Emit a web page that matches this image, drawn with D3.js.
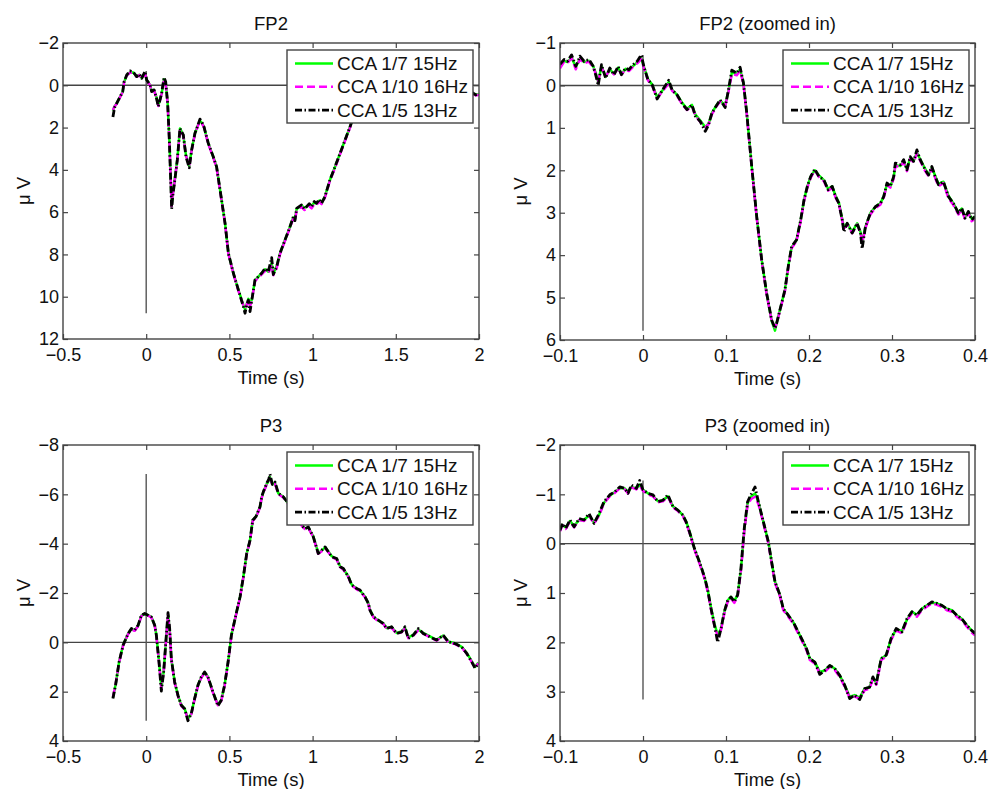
<!DOCTYPE html>
<html>
<head>
<meta charset="utf-8">
<script src="https://cdn.jsdelivr.net/npm/d3@7"></script>
<style>
  body { margin: 0; background: #fff; }
  text { font-family: "Liberation Sans", Arial, Helvetica, sans-serif; fill: #111; }
</style>
</head>
<body>
<svg id="chart" width="991" height="789"></svg>
<script>

// ---- series / legend ----
var seriesNames = ["CCA 1/7 15Hz", "CCA 1/10 16Hz", "CCA 1/5 13Hz"];

// ---- tick labels ----
var fullTimeTicks = [-0.5, 0, 0.5, 1, 1.5, 2];
var zoomTimeTicks = [-0.1, 0, 0.1, 0.2, 0.3, 0.4];
var fp2Ticks = [-2, 0, 2, 4, 6, 8, 10, 12];
var fp2ZoomTicks = [-1, 0, 1, 2, 3, 4, 5, 6];
var p3Ticks = [-8, -6, -4, -2, 0, 2, 4];
var p3ZoomTicks = [-2, -1, 0, 1, 2, 3, 4];

// ---- FP2, full epoch ----
var fp2Time = [
  -0.200,-0.190,-0.177,-0.157,-0.141,-0.133,-0.117,-0.097,-0.077,-0.057,
  -0.041,-0.027,-0.007,0.003,0.023,0.033,0.047,0.060,0.073,0.093,
  0.107,0.117,0.129,0.139,0.153,0.160,0.167,0.187,0.203,0.223,
  0.239,0.259,0.273,0.293,0.310,0.323,0.335,0.347,0.373,0.390,
  0.403,0.423,0.447,0.474,0.494,0.524,0.554,0.584,0.594,0.604,
  0.614,0.624,0.634,0.654,0.674,0.694,0.714,0.734,0.754,0.764,
  0.784,0.804,0.834,0.864,0.884,0.894,0.904,0.934,0.950,0.964,
  0.980,0.994,1.010,1.024,1.040,1.054,1.074,1.104,1.135,1.165,
  1.195,1.225,1.250,1.300,1.400,1.500,1.600,1.700,1.800,1.900,
  1.960,1.980,2.000];
var fp2Cca7 = [
  1.20,1.00,0.85,0.54,0.30,-0.15,-0.47,-0.62,-0.60,-0.41,
  -0.50,-0.35,-0.58,-0.25,-0.02,0.28,0.22,0.52,0.95,0.38,
  -0.28,-0.10,0.85,2.55,5.70,5.15,4.75,3.50,2.04,2.35,
  3.30,3.80,3.06,2.27,1.90,1.68,1.78,1.96,2.74,3.10,
  3.38,3.85,5.11,6.53,7.95,8.89,9.68,10.40,10.60,10.35,
  10.10,10.40,10.15,9.21,9.05,8.89,8.70,8.82,8.40,8.90,
  8.55,7.95,7.32,6.69,6.25,6.35,5.85,5.68,5.80,5.74,
  5.65,5.70,5.55,5.58,5.45,5.55,5.27,4.48,3.85,3.22,
  2.59,1.96,1.40,0.70,0.00,-0.40,-0.50,-0.30,0.00,0.20,
  0.38,0.45,0.42];
var fp2Cca10 = [
  1.17,1.00,0.87,0.56,0.32,-0.14,-0.46,-0.60,-0.58,-0.40,
  -0.48,-0.33,-0.56,-0.23,0.00,0.30,0.24,0.55,0.98,0.40,
  -0.25,-0.08,0.88,2.60,5.72,5.18,4.78,3.55,2.08,2.38,
  3.33,3.82,3.10,2.30,1.93,1.70,1.80,1.99,2.78,3.14,
  3.42,3.90,5.15,6.56,7.98,8.92,9.72,10.42,10.55,10.38,
  10.15,10.45,10.20,9.26,9.10,8.94,8.78,8.90,8.50,8.98,
  8.65,8.00,7.36,6.74,6.30,6.42,5.92,5.75,5.90,5.84,
  5.72,5.82,5.62,5.66,5.50,5.62,5.32,4.52,3.90,3.26,
  2.63,2.00,1.44,0.74,0.04,-0.36,-0.46,-0.26,0.04,0.24,
  0.40,0.48,0.44];
var fp2Cca5 = [
  1.50,1.05,0.85,0.54,0.30,-0.17,-0.49,-0.68,-0.62,-0.41,
  -0.53,-0.33,-0.66,-0.25,-0.02,0.30,0.22,0.55,1.01,0.38,
  -0.38,-0.17,0.85,2.59,5.85,5.20,4.80,3.53,2.04,2.35,
  3.38,3.90,3.06,2.27,1.90,1.60,1.75,1.96,2.74,3.10,
  3.38,3.85,5.11,6.53,7.95,8.89,9.68,10.47,10.78,10.40,
  10.16,10.70,10.20,9.21,9.05,8.89,8.66,8.82,8.15,8.95,
  8.60,7.95,7.32,6.69,6.22,6.40,5.82,5.66,5.85,5.74,
  5.60,5.74,5.50,5.58,5.40,5.58,5.27,4.48,3.85,3.22,
  2.59,1.96,1.40,0.70,0.00,-0.40,-0.50,-0.30,0.00,0.20,
  0.35,0.45,0.40];

// ---- FP2, zoomed in ----
var fp2ZoomTime = [
  -0.100,-0.095,-0.091,-0.086,-0.081,-0.076,-0.071,-0.065,-0.060,-0.057,
  -0.054,-0.050,-0.045,-0.040,-0.035,-0.030,-0.026,-0.021,-0.017,-0.012,
  -0.007,-0.002,0.001,0.006,0.011,0.017,0.025,0.031,0.035,0.041,
  0.047,0.053,0.059,0.063,0.069,0.075,0.079,0.083,0.089,0.093,
  0.099,0.103,0.107,0.113,0.117,0.121,0.125,0.131,0.137,0.143,
  0.149,0.155,0.159,0.161,0.165,0.171,0.175,0.179,0.185,0.190,
  0.194,0.198,0.202,0.207,0.212,0.218,0.223,0.228,0.232,0.236,
  0.240,0.242,0.246,0.252,0.258,0.262,0.264,0.268,0.274,0.280,
  0.286,0.290,0.294,0.298,0.302,0.304,0.310,0.314,0.318,0.322,
  0.326,0.330,0.334,0.340,0.344,0.348,0.352,0.356,0.362,0.368,
  0.374,0.380,0.384,0.388,0.392,0.396,0.400];
var fp2ZoomCca7 = [
  -0.45,-0.58,-0.55,-0.66,-0.43,-0.64,-0.55,-0.58,-0.45,-0.30,
  -0.08,-0.45,-0.20,-0.38,-0.27,-0.42,-0.27,-0.39,-0.36,-0.46,
  -0.54,-0.64,-0.45,-0.15,-0.02,0.28,0.08,-0.08,0.10,0.22,
  0.40,0.55,0.46,0.68,0.83,0.98,0.90,0.65,0.45,0.36,
  0.47,0.12,-0.30,-0.28,-0.38,-0.06,0.65,1.91,3.09,4.11,
  4.90,5.55,5.78,5.60,5.29,4.82,4.27,3.82,3.64,3.17,
  2.70,2.38,2.15,2.00,2.12,2.23,2.44,2.38,2.60,2.76,
  3.15,3.35,3.25,3.45,3.25,3.45,3.70,3.33,3.01,2.86,
  2.78,2.62,2.32,2.38,2.17,1.88,1.90,1.78,1.97,1.70,
  1.78,1.58,1.74,1.97,2.10,1.93,2.13,2.32,2.27,2.60,
  2.78,3.00,2.90,3.10,2.98,3.14,3.10];
var fp2ZoomCca10 = [
  -0.40,-0.56,-0.53,-0.64,-0.38,-0.62,-0.52,-0.56,-0.42,-0.28,
  -0.10,-0.42,-0.22,-0.36,-0.26,-0.40,-0.26,-0.37,-0.34,-0.44,
  -0.52,-0.62,-0.42,-0.12,0.00,0.30,0.10,-0.05,0.12,0.24,
  0.44,0.58,0.49,0.70,0.86,0.98,0.92,0.68,0.48,0.38,
  0.48,0.15,-0.27,-0.24,-0.35,-0.03,0.68,1.94,3.12,4.14,
  4.93,5.55,5.70,5.62,5.31,4.85,4.30,3.84,3.67,3.20,
  2.73,2.41,2.18,2.00,2.16,2.26,2.48,2.41,2.64,2.80,
  3.18,3.38,3.28,3.48,3.28,3.46,3.72,3.36,3.04,2.89,
  2.81,2.65,2.34,2.41,2.20,1.90,1.92,1.80,2.02,1.72,
  1.82,1.60,1.78,2.02,2.14,1.96,2.18,2.38,2.30,2.66,
  2.82,3.04,2.93,3.16,3.00,3.20,3.14];
var fp2ZoomCca5 = [
  -0.50,-0.61,-0.57,-0.72,-0.45,-0.69,-0.57,-0.61,-0.45,-0.25,
  0.00,-0.49,-0.17,-0.41,-0.25,-0.45,-0.25,-0.41,-0.37,-0.49,
  -0.57,-0.72,-0.45,-0.13,-0.02,0.32,0.06,-0.12,0.10,0.22,
  0.42,0.57,0.46,0.72,0.85,1.08,0.93,0.65,0.46,0.34,
  0.52,0.10,-0.36,-0.29,-0.43,-0.06,0.65,1.91,3.09,4.11,
  4.90,5.53,5.72,5.61,5.29,4.82,4.27,3.80,3.64,3.17,
  2.70,2.38,2.15,1.97,2.15,2.23,2.46,2.38,2.62,2.78,
  3.17,3.45,3.25,3.48,3.25,3.48,3.85,3.33,3.01,2.86,
  2.78,2.62,2.30,2.38,2.15,1.83,1.87,1.75,1.99,1.68,
  1.79,1.52,1.75,1.99,2.11,1.91,2.15,2.34,2.27,2.62,
  2.78,3.01,2.89,3.13,2.97,3.17,3.09];

// ---- P3, full epoch ----
var p3Time = [
  -0.200,-0.184,-0.163,-0.139,-0.109,-0.089,-0.069,-0.049,-0.029,-0.009,
  0.011,0.031,0.051,0.061,0.077,0.091,0.105,0.121,0.131,0.141,
  0.151,0.171,0.191,0.211,0.231,0.251,0.271,0.291,0.311,0.331,
  0.351,0.371,0.401,0.431,0.451,0.471,0.492,0.512,0.542,0.564,
  0.584,0.604,0.624,0.640,0.660,0.684,0.694,0.704,0.724,0.736,
  0.744,0.758,0.774,0.794,0.824,0.862,0.902,0.932,0.954,0.974,
  1.004,1.034,1.055,1.075,1.094,1.115,1.145,1.165,1.185,1.215,
  1.235,1.265,1.285,1.315,1.335,1.345,1.365,1.395,1.425,1.445,
  1.475,1.505,1.535,1.555,1.575,1.605,1.635,1.665,1.705,1.745,
  1.785,1.815,1.856,1.896,1.926,1.956,1.976,1.996];
var p3Cca7 = [
  2.25,1.72,0.80,0.12,-0.35,-0.54,-0.49,-0.67,-1.08,-1.15,
  -1.10,-1.03,-0.70,-0.30,0.78,1.85,1.20,-0.28,-1.12,-0.56,
  0.66,1.61,2.15,2.55,2.69,3.10,2.89,2.28,1.74,1.42,
  1.22,1.40,2.01,2.52,2.35,1.74,0.80,-0.29,-1.20,-1.84,
  -2.66,-3.60,-4.14,-4.95,-5.10,-5.50,-5.88,-6.10,-6.42,-6.55,
  -6.70,-6.42,-6.45,-6.04,-5.90,-5.56,-5.16,-4.78,-4.62,-4.66,
  -4.30,-3.62,-3.72,-3.85,-3.69,-3.49,-3.38,-3.08,-2.97,-2.68,
  -2.34,-2.18,-2.10,-1.86,-1.58,-1.32,-1.05,-0.88,-0.78,-0.58,
  -0.62,-0.38,-0.44,-0.60,-0.20,-0.30,-0.52,-0.38,-0.24,-0.10,
  -0.28,-0.04,0.04,0.18,0.42,0.76,1.00,0.82];
var p3Cca10 = [
  2.22,1.70,0.82,0.14,-0.33,-0.52,-0.47,-0.65,-1.06,-1.13,
  -1.08,-1.01,-0.68,-0.27,0.82,1.88,1.22,-0.25,-1.10,-0.53,
  0.69,1.64,2.18,2.58,2.72,3.12,2.92,2.31,1.77,1.44,
  1.24,1.43,2.04,2.55,2.38,1.77,0.83,-0.26,-1.17,-1.81,
  -2.63,-3.57,-4.11,-4.92,-5.07,-5.47,-5.85,-6.07,-6.39,-6.52,
  -6.65,-6.38,-6.42,-6.01,-5.87,-5.53,-5.13,-4.75,-4.59,-4.63,
  -4.27,-3.59,-3.69,-3.82,-3.66,-3.46,-3.35,-3.05,-2.94,-2.65,
  -2.31,-2.15,-2.07,-1.83,-1.55,-1.29,-1.02,-0.85,-0.75,-0.55,
  -0.59,-0.35,-0.41,-0.57,-0.17,-0.27,-0.49,-0.35,-0.21,-0.07,
  -0.25,-0.01,0.07,0.21,0.45,0.79,1.02,0.85];
var p3Cca5 = [
  2.28,1.74,0.80,0.12,-0.35,-0.56,-0.49,-0.69,-1.10,-1.17,
  -1.10,-1.03,-0.69,-0.29,0.80,1.98,1.20,-0.29,-1.20,-0.56,
  0.66,1.61,2.15,2.55,2.69,3.18,2.89,2.28,1.74,1.40,
  1.20,1.40,2.01,2.58,2.35,1.74,0.80,-0.29,-1.20,-1.84,
  -2.66,-3.60,-4.14,-4.95,-5.10,-5.50,-5.90,-6.10,-6.45,-6.60,
  -6.82,-6.40,-6.50,-6.04,-5.90,-5.56,-5.16,-4.75,-4.60,-4.68,
  -4.28,-3.60,-3.74,-3.87,-3.67,-3.47,-3.40,-3.06,-2.99,-2.66,
  -2.32,-2.18,-2.12,-1.84,-1.58,-1.30,-1.03,-0.90,-0.76,-0.56,
  -0.63,-0.36,-0.42,-0.63,-0.16,-0.29,-0.56,-0.36,-0.22,-0.09,
  -0.29,-0.02,0.05,0.19,0.45,0.79,1.05,0.86];

// ---- P3, zoomed in ----
var p3ZoomTime = [
  -0.100,-0.097,-0.093,-0.088,-0.083,-0.077,-0.071,-0.065,-0.059,-0.053,
  -0.047,-0.040,-0.034,-0.028,-0.022,-0.018,-0.014,-0.008,-0.004,0.000,
  0.006,0.012,0.018,0.024,0.030,0.036,0.042,0.048,0.052,0.056,
  0.062,0.068,0.074,0.078,0.082,0.086,0.090,0.094,0.098,0.102,
  0.106,0.110,0.114,0.118,0.122,0.126,0.130,0.135,0.139,0.143,
  0.147,0.151,0.155,0.159,0.165,0.169,0.175,0.181,0.187,0.193,
  0.197,0.201,0.207,0.213,0.219,0.225,0.231,0.237,0.243,0.249,
  0.255,0.261,0.267,0.273,0.277,0.281,0.287,0.293,0.299,0.305,
  0.312,0.318,0.324,0.330,0.336,0.342,0.348,0.354,0.360,0.366,
  0.372,0.378,0.384,0.390,0.396,0.400];
var p3ZoomCca7 = [
  -0.30,-0.38,-0.33,-0.46,-0.36,-0.48,-0.48,-0.58,-0.43,-0.58,
  -0.83,-0.97,-1.05,-1.13,-1.12,-1.04,-1.15,-1.12,-1.20,-1.09,
  -1.02,-0.97,-0.86,-0.88,-0.96,-0.76,-0.68,-0.58,-0.45,-0.25,
  0.10,0.37,0.67,0.94,1.30,1.62,1.85,1.72,1.38,1.15,
  1.08,1.16,1.04,0.52,-0.28,-0.82,-0.95,-1.02,-0.85,-0.58,
  -0.31,-0.04,0.37,0.77,1.04,1.32,1.45,1.59,1.79,1.99,
  2.13,2.33,2.40,2.60,2.57,2.47,2.53,2.67,2.87,3.10,
  3.07,3.12,2.94,2.91,2.72,2.82,2.33,2.26,1.92,1.74,
  1.77,1.54,1.38,1.44,1.32,1.25,1.20,1.21,1.25,1.32,
  1.35,1.45,1.52,1.65,1.76,1.82];
var p3ZoomCca10 = [
  -0.25,-0.38,-0.30,-0.45,-0.33,-0.48,-0.46,-0.57,-0.40,-0.57,
  -0.82,-0.96,-1.03,-1.12,-1.10,-1.02,-1.14,-1.10,-1.17,-1.07,
  -1.00,-0.96,-0.84,-0.86,-0.95,-0.74,-0.66,-0.56,-0.42,-0.22,
  0.12,0.40,0.70,0.97,1.34,1.66,1.88,1.75,1.41,1.18,
  1.11,1.20,1.07,0.55,-0.25,-0.78,-0.90,-0.95,-0.80,-0.55,
  -0.28,-0.01,0.40,0.80,1.07,1.35,1.48,1.62,1.82,2.02,
  2.16,2.36,2.43,2.63,2.60,2.50,2.56,2.70,2.90,3.12,
  3.10,3.14,2.97,2.94,2.74,2.86,2.36,2.29,1.95,1.76,
  1.82,1.56,1.41,1.48,1.35,1.28,1.21,1.24,1.28,1.35,
  1.38,1.48,1.55,1.68,1.80,1.86];
var p3ZoomCca5 = [
  -0.27,-0.41,-0.31,-0.48,-0.34,-0.51,-0.48,-0.61,-0.41,-0.61,
  -0.85,-0.99,-1.05,-1.15,-1.12,-1.02,-1.19,-1.12,-1.28,-1.09,
  -1.02,-0.99,-0.85,-0.88,-0.99,-0.75,-0.68,-0.58,-0.44,-0.24,
  0.10,0.37,0.67,0.94,1.32,1.65,2.00,1.72,1.38,1.15,
  1.08,1.18,1.04,0.50,-0.31,-0.85,-0.99,-1.15,-0.85,-0.58,
  -0.31,-0.04,0.37,0.77,1.04,1.32,1.45,1.59,1.79,1.99,
  2.13,2.33,2.40,2.65,2.57,2.47,2.53,2.67,2.87,3.14,
  3.07,3.16,2.94,2.91,2.70,2.84,2.33,2.26,1.92,1.72,
  1.79,1.52,1.38,1.45,1.32,1.25,1.18,1.21,1.25,1.32,
  1.35,1.45,1.52,1.65,1.76,1.82];

// line styles, drawn green first, black dash-dot on top
var seriesColors = ["#00ff00", "#ff00ff", "#000000"];
var seriesDash = [null, "8,4", "7,2.5,1.5,2.5"];

var panels = [
  { title: "FP2", time: fp2Time, values: [fp2Cca7, fp2Cca10, fp2Cca5],
    xDomain: [-0.5, 2], yDomain: [-2, 12], xTicks: fullTimeTicks, yTicks: fp2Ticks,
    left: 63, right: 479, top: 43, bottom: 339 },
  { title: "FP2 (zoomed in)", time: fp2ZoomTime, values: [fp2ZoomCca7, fp2ZoomCca10, fp2ZoomCca5],
    xDomain: [-0.1, 0.4], yDomain: [-1, 6], xTicks: zoomTimeTicks, yTicks: fp2ZoomTicks,
    left: 560, right: 975, top: 43, bottom: 340 },
  { title: "P3", time: p3Time, values: [p3Cca7, p3Cca10, p3Cca5],
    xDomain: [-0.5, 2], yDomain: [-8, 4], xTicks: fullTimeTicks, yTicks: p3Ticks,
    left: 63, right: 479, top: 445, bottom: 741 },
  { title: "P3 (zoomed in)", time: p3ZoomTime, values: [p3ZoomCca7, p3ZoomCca10, p3ZoomCca5],
    xDomain: [-0.1, 0.4], yDomain: [-2, 4], xTicks: zoomTimeTicks, yTicks: p3ZoomTicks,
    left: 560, right: 975, top: 445, bottom: 741 }
];

var svg = d3.select("#chart");
var fmt = function(d) { return (d < 0 ? "\u2212" : "") + Math.abs(d); };

panels.forEach(function(p, pi) {
  p.values.forEach(function(v) {
    if (v.length !== p.time.length) throw new Error(p.title + " length " + v.length + " vs " + p.time.length);
  });

  var x = d3.scaleLinear().domain(p.xDomain).range([p.left, p.right]);
  var y = d3.scaleLinear().domain(p.yDomain).range([p.top, p.bottom]);
  var g = svg.append("g").attr("class", "panel");

  g.append("clipPath").attr("id", "clip" + pi)
   .append("rect")
   .attr("x", p.left).attr("y", p.top)
   .attr("width", p.right - p.left).attr("height", p.bottom - p.top);

  // zero lines
  var allVals = d3.merge(p.values);
  g.append("line")
   .attr("x1", p.left).attr("x2", p.right)
   .attr("y1", y(0)).attr("y2", y(0))
   .attr("stroke", "#444").attr("stroke-width", 1.4);
  g.append("line")
   .attr("x1", x(0)).attr("x2", x(0))
   .attr("y1", y(d3.min(allVals))).attr("y2", y(d3.max(allVals)))
   .attr("stroke", "#555").attr("stroke-width", 1.4);

  // traces
  var line = d3.line()
    .x(function(d) { return x(d[0]); })
    .y(function(d) { return y(d[1]); });
  var traces = g.append("g").attr("clip-path", "url(#clip" + pi + ")");
  p.values.forEach(function(vals, si) {
    traces.append("path")
      .datum(d3.zip(p.time, vals))
      .attr("d", line)
      .attr("fill", "none")
      .attr("stroke", seriesColors[si])
      .attr("stroke-width", si === 2 ? 2.8 : 2.5)
      .attr("stroke-linejoin", "round")
      .attr("stroke-dasharray", seriesDash[si]);
  });

  // axes, ticks inside on all four sides
  var axes = [
    { a: d3.axisBottom(x).tickValues(p.xTicks).tickFormat(fmt).tickPadding(9), t: "translate(0," + p.bottom + ")" },
    { a: d3.axisTop(x).tickValues(p.xTicks).tickFormat(""), t: "translate(0," + p.top + ")" },
    { a: d3.axisLeft(y).tickValues(p.yTicks).tickFormat(fmt).tickPadding(4), t: "translate(" + p.left + ",0)" },
    { a: d3.axisRight(y).tickValues(p.yTicks).tickFormat(""), t: "translate(" + p.right + ",0)" }
  ];
  axes.forEach(function(ax) {
    var ag = g.append("g").attr("transform", ax.t)
      .call(ax.a.tickSizeInner(-5).tickSizeOuter(0));
    ag.select(".domain").remove();
    ag.selectAll(".tick line").attr("stroke", "#444").attr("stroke-width", 1.2);
    ag.selectAll(".tick text")
      .style("font-family", "'Liberation Sans', Arial, sans-serif")
      .style("font-size", "18px").attr("fill", "#111");
  });

  g.append("rect")
   .attr("x", p.left).attr("y", p.top)
   .attr("width", p.right - p.left).attr("height", p.bottom - p.top)
   .attr("fill", "none").attr("stroke", "#444").attr("stroke-width", 1.4);

  // titles and labels
  var cx = (p.left + p.right) / 2;
  g.append("text").attr("x", cx).attr("y", p.top - 13)
   .attr("text-anchor", "middle").style("font-size", "18.5px").text(p.title);
  g.append("text").attr("x", cx).attr("y", p.bottom + 45)
   .attr("text-anchor", "middle").style("font-size", "18.5px").text("Time (s)");
  g.append("text")
   .attr("transform", "translate(" + (p.left - 33) + "," + ((p.top + p.bottom) / 2) + ") rotate(-90)")
   .attr("text-anchor", "middle").style("font-size", "18.5px").text("\u03bc V");

  // legend
  var lw = 186, lh = 73;
  var lx = p.right - 6 - lw, ly = p.top + 7;
  var lg = g.append("g").attr("transform", "translate(" + lx + "," + ly + ")");
  lg.append("rect").attr("width", lw).attr("height", lh)
    .attr("fill", "#fff").attr("stroke", "#444").attr("stroke-width", 1.4);
  seriesNames.forEach(function(name, si) {
    var ry = 13.5 + si * 23.3;
    lg.append("line")
      .attr("x1", 8).attr("x2", 46).attr("y1", ry).attr("y2", ry)
      .attr("stroke", seriesColors[si]).attr("stroke-width", 2.6)
      .attr("stroke-dasharray", seriesDash[si]);
    lg.append("text").attr("x", 50).attr("y", ry + 6.5)
      .style("font-size", "19px").text(name);
  });
});
</script>
</body>
</html>
